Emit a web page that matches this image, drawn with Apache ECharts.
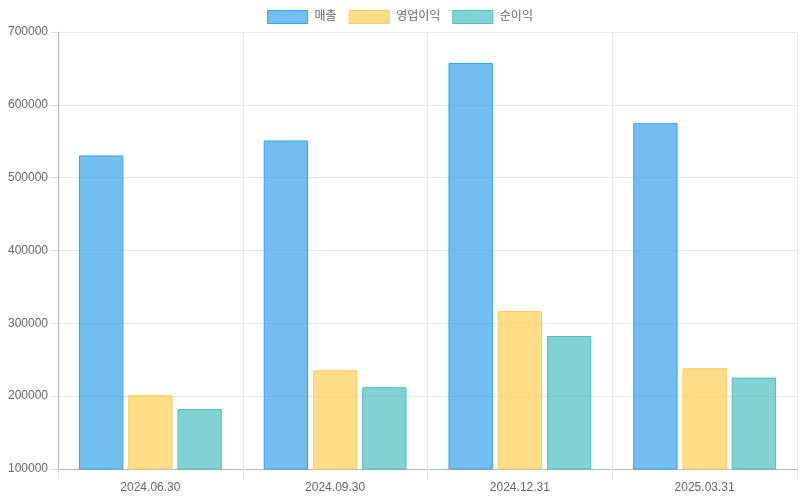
<!DOCTYPE html>
<html><head><meta charset="utf-8">
<script src="https://cdn.jsdelivr.net/npm/echarts@6/dist/echarts.min.js"></script>
<style>html,body{margin:0;padding:0;background:#fff}#c{width:800px;height:500px}</style>
</head><body><div id="c"></div>
<script>
const categories = ['2024.06.30','2024.09.30','2024.12.31','2025.03.31'];
const sales = [530500, 551100, 657500, 574800];
const opProfit = [201400, 235600, 316800, 238400];
const netProfit = [182200, 212300, 282600, 225500];
const seriesNames = ['매출','영업이익','순이익'];

const font = '"Liberation Sans", Arial, "Noto Sans CJK KR", sans-serif';
const chart = echarts.init(document.getElementById('c'));
function mk(name, data, rgb){
  return {
    name, type:'bar', data,
    barGap:'11%', barCategoryGap:'22.7%',
    itemStyle:{color:'rgba('+rgb+',0.7)', borderColor:'rgb('+rgb+')', borderWidth:1},
    emphasis:{disabled:true}
  };
}
chart.setOption({
  animation:false,
  textStyle:{fontFamily:font},
  legend:{
    top:5, left:'center', itemWidth:40, itemHeight:13, itemGap:12, icon:'rect',
    itemStyle:{borderWidth:1},
    textStyle:{color:'#666', fontSize:12, fontFamily:font, padding:[0,0,0,2]},
    data:seriesNames
  },
  grid:{left:58, right:3, top:32, bottom:31, containLabel:false},
  xAxis:{
    type:'category', data:categories, boundaryGap:true,
    axisLine:{lineStyle:{color:'#b5b5b5'}},
    axisTick:{show:true, length:10, lineStyle:{color:'#e0e0e0'}},
    axisLabel:{color:'#666', fontSize:12, margin:13, fontFamily:font},
    splitLine:{show:true, lineStyle:{color:'#e6e6e6'}}
  },
  yAxis:{
    type:'value', min:100000, max:700000, interval:100000,
    axisLine:{show:true, lineStyle:{color:'#b5b5b5'}},
    axisTick:{show:true, length:8, lineStyle:{color:'#e0e0e0'}},
    axisLabel:{color:'#666', fontSize:12, margin:10, fontFamily:font, formatter:v=>String(v)},
    splitLine:{show:true, lineStyle:{color:'#e6e6e6'}}
  },
  series:[
    mk(seriesNames[0], sales, '54,162,235'),
    mk(seriesNames[1], opProfit, '255,205,86'),
    mk(seriesNames[2], netProfit, '75,192,192')
  ]
});
</script></body></html>
